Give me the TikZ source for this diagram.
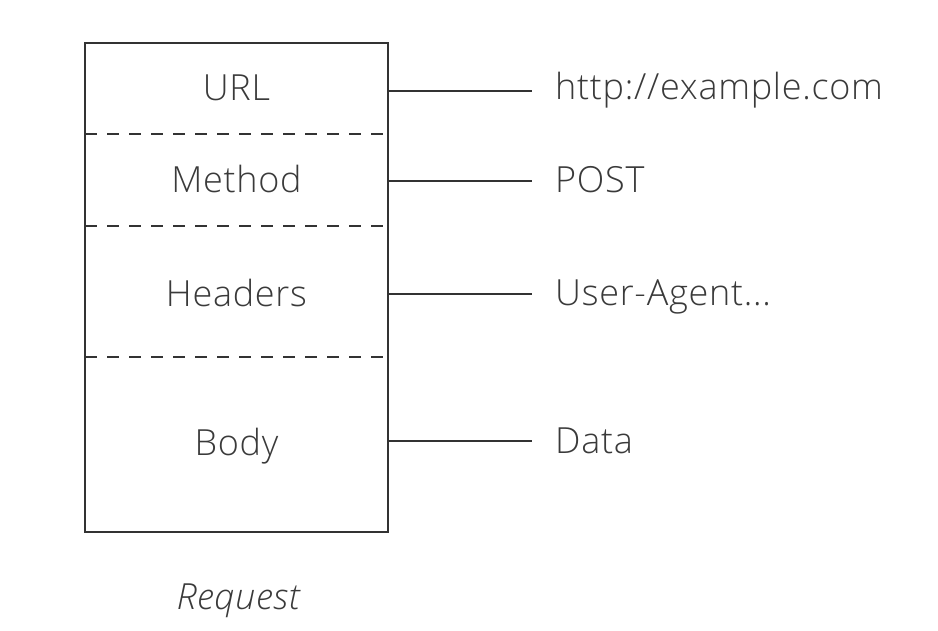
\documentclass[tikz,border=0pt]{standalone}
\usepackage{fontspec}
\setmainfont{Open Sans}[UprightFont={* Light},ItalicFont={* Light Italic},LetterSpace=2.0]
\definecolor{ink}{HTML}{333333}
\definecolor{txt}{HTML}{3A3A3A}
\begin{document}
\begin{tikzpicture}[x=1pt,y=-1pt,
  boxline/.style={draw=ink,line width=2pt},
  sepline/.style={draw=ink,line width=2pt,dash pattern=on 12pt off 10pt},
  conn/.style={draw=ink,line width=2pt},
  field/.style={inner sep=0pt,text=txt,font=\fontsize{36}{42}\selectfont,anchor=base},
  val/.style={inner sep=0pt,text=txt,font=\fontsize{36}{42}\selectfont,anchor=base west},
  captiontext/.style={inner sep=0pt,text=txt,font=\fontsize{36}{42}\selectfont\itshape,anchor=base}]
\useasboundingbox (0,0) rectangle (938,631);
\node[boxline,minimum width=303pt,minimum height=489pt,inner sep=0pt] (box) at (236.5,287.5) {};
\coordinate (s1l) at (85,134); \coordinate (s1r) at (388,134);
\coordinate (s2l) at (85,226); \coordinate (s2r) at (388,226);
\coordinate (s3l) at (85,357); \coordinate (s3r) at (388,357);
\draw[sepline] (s1l) -- (s1r);
\draw[sepline] (s2l) -- (s2r);
\draw[sepline] (s3l) -- (s3r);
\node[field] (url) at (236.5,101) {URL};
\node[field] (method) at (236.5,193) {Method};
\node[field] (headers) at (236.5,307) {Headers};
\node[field] (body) at (236.5,455) {Body};
\node[captiontext] (request) at (238,609) {Request};
\node[val] (urlv) at (555,100) {http://example.com};
\node[val] (methodv) at (555,193) {POST};
\node[val] (headersv) at (555,306) {User-Agent...};
\node[val] (bodyv) at (555,453) {Data};
\coordinate (c1a) at (388,91);  \coordinate (c1b) at (532,91);
\coordinate (c2a) at (388,181); \coordinate (c2b) at (532,181);
\coordinate (c3a) at (388,294); \coordinate (c3b) at (532,294);
\coordinate (c4a) at (388,441); \coordinate (c4b) at (532,441);
\draw[conn] (c1a) -- (c1b);
\draw[conn] (c2a) -- (c2b);
\draw[conn] (c3a) -- (c3b);
\draw[conn] (c4a) -- (c4b);
\end{tikzpicture}
\end{document}
